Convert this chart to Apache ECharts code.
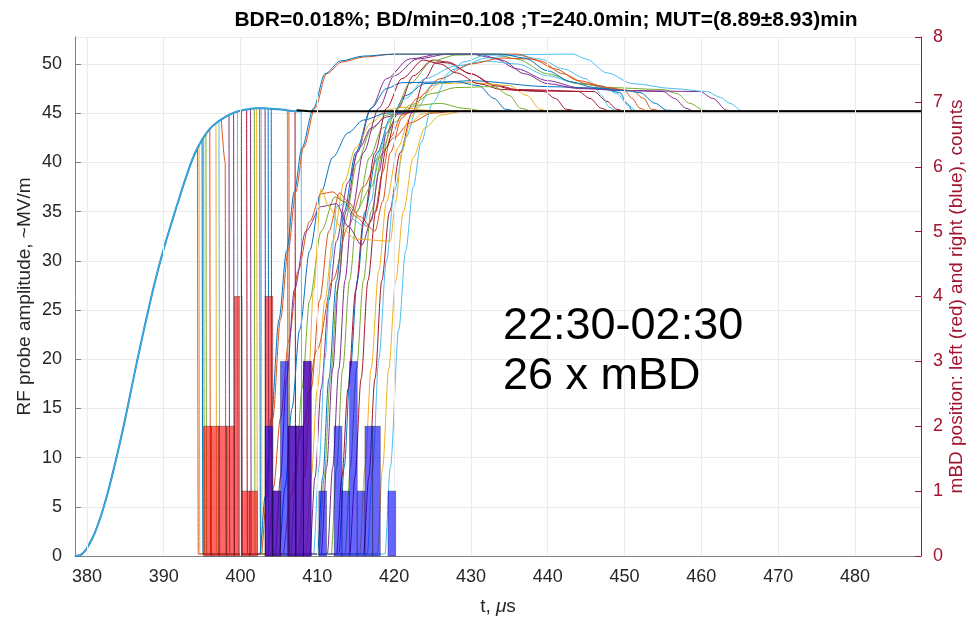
<!DOCTYPE html>
<html><head><meta charset="utf-8">
<script src="https://cdn.jsdelivr.net/npm/echarts@6/dist/echarts.min.js"></script>
<style>html,body{margin:0;padding:0;background:#fff}#c{width:969px;height:622px}</style>
</head><body><div id="c"></div>
<script>
// ---------- data ----------
const titleText = 'BDR=0.018%; BD/min=0.108 ;T=240.0min; MUT=(8.89\u00b18.93)min';
const xTicks = [380,390,400,410,420,430,440,450,460,470,480];
const leftTicks = [0,5,10,15,20,25,30,35,40,45,50];
const rightTicks = [0,1,2,3,4,5,6,7,8];

// common pulse before breakdown (t [us], amplitude)
const envelope = [[378.5,0],[379,0.05],[379.5,0.3],[380,0.8],[381,2.3],[382,4.5],[383,7.3],[384,10.5],[385,14],[386,17.8],[387,21.5],[388,25],[389,28.3],[390,31.2],[391,33.8],[392,36.3],[393,38.7],[394,40.8],[395,42.3],[396,43.4],[397,44.1],[398,44.6],[399,45.0],[400,45.25],[401,45.4],[402,45.5],[403,45.5],[404,45.45],[405,45.4],[406,45.3],[407,45.2],[408,45.2]];
const blackTrace = [[407.3,45.3],[409,45.2],[412,45.2],[488.6,45.2]];

// breakdown traces: from the moment of the drop onward
const bd01 = [[395.0,42.3],[395.1,0.2],[402.5,0.2],[403.2,6],[404,14],[405,24],[406,31],[407,37],[408,41.5],[409.5,45.5],[411,49],[413,50.3],[416,50.8],[420,51],[434,51],[437,50.6],[440,49.3],[443,48.2],[446,47.6],[450,47.3],[452,47.1],[454,46],[455.5,45.3],[458,45.2],[488.6,45.2]];
const bd02 = [[394.4,41.4],[394.5,0.2],[402.7,0.2],[403.4,6],[404.2,14],[405.2,24],[406.2,31],[407.2,37],[408.2,41.5],[409.7,45.5],[411.2,49],[413.2,50.2],[416,50.7],[420,51],[436,51],[439,50.3],[442,49],[445,48],[448,47.5],[451,47.3],[452.5,46.5],[453.5,45.4],[455,45.2],[488.6,45.2]];
const bd03 = [[394.6,41.7],[394.7,0.2],[407.6,0.2],[408.2,8],[408.8,17],[409.5,27],[410.5,37.3],[411.5,35.5],[413,33.5],[415,32.2],[419.5,32],[420.2,36],[421,41],[422,43.8],[423.5,44.9],[426,45.2],[488.6,45.2]];
const bd04 = [[399.1,45.0],[399.2,0.2],[404.5,0.2],[405.2,8],[406,18],[407,27],[408.5,33],[410.5,35.5],[412.5,35.8],[414,33.5],[415.8,31.6],[417,34],[418,39],[419,43],[420.5,44.9],[423,45.2],[488.6,45.2]];
const bd05 = [[395.5,42.85],[395.6,0.2],[406.5,0.2],[407.2,8],[408,17],[409,26],[410.5,33],[412.3,36.5],[413.5,36],[415,35],[417,37.5],[418.5,41.5],[420,44],[422,45.8],[425,47],[428,47.6],[433,47.7],[435,46.8],[436.5,45.5],[438,45.2],[488.6,45.2]];
const bd06 = [[397.2,44.2],[397.3,0.2],[418.8,0.2],[419.5,9],[420.6,23],[421.5,31],[422.5,37.5],[423.5,42],[425,46],[427,48.8],[429,50.2],[432,50.9],[443.3,51],[445,50.5],[447.7,49.1],[451.1,48.0],[456.3,47.5],[460.7,47.2],[462.5,46.6],[463.7,46],[465.4,45.2],[488.6,45.2]];
const bd07 = [[400.1,45.25],[400.2,0.2],[412.5,0.2],[413.2,8],[414,17],[415,27],[416,34],[417.5,41],[419,45.5],[421,48.5],[423.8,50.4],[426,50],[428.1,49.1],[431,48],[434,47.4],[439.5,47.2],[441,46.5],[442.4,45.4],[444,45.2],[488.6,45.2]];
const bd08 = [[402.5,45.5],[402.6,0.2],[410,0.2],[410.7,8],[411.5,18],[412.5,28],[413.5,35],[415,41],[417,45.5],[419,47.5],[421,48.1],[428,48.2],[431,47.8],[433,46.5],[434.5,45.4],[436,45.2],[488.6,45.2]];
const bd09 = [[406.3,45.28],[406.4,0.2],[407.5,0.2],[408.3,8],[409.2,17],[410.3,26],[411.5,33],[412.9,36.9],[414,36],[415.5,34.5],[417.5,33],[418.5,36],[419.5,41],[421,44.5],[423,46.5],[426,48.5],[430,50],[434,50.6],[438,50.5],[441,49.5],[444,48.3],[448,47.6],[450,47.3],[451,46.5],[452,45.5],[453,45.2],[488.6,45.2]];
const bd10 = [[402.1,45.5],[402.2,0.2],[415.5,0.2],[416.2,9],[417,19],[418,29],[419,36],[420.5,41.5],[422,44.5],[424,47],[426,48],[430,48.1],[435,47.8],[437.3,46.8],[439,45.4],[440,45.2],[488.6,45.2]];
const bd11 = [[401.3,45.45],[401.4,0.2],[411.3,0.2],[412,9],[412.8,19],[413.6,28],[414.5,35],[416,41],[418,45.5],[420,48.8],[423,50.5],[427,51],[431,51],[434,50.4],[437,49],[440,48],[444,47.5],[450,47.3],[459.8,47.2],[461.5,46.5],[463.3,45.3],[465,45.2],[488.6,45.2]];
const bd12 = [[401.8,45.5],[401.9,0.2],[413.6,0.2],[414.3,9],[415.1,19],[416,28],[417,35],[418.5,41],[420,45],[422,48],[425,50.3],[428,50.9],[433,51],[436,50.5],[440,49],[444,48],[448,47.6],[455,47.4],[456.8,47],[458.5,46],[460.3,45.3],[462,45.2],[488.6,45.2]];
const bd13 = [[407.9,45.2],[408,0.2],[409.5,0.2],[410.2,9],[411,20],[411.8,30],[412.5,35.5],[413.5,35.8],[415,34],[416,33.5],[417,36],[418,41],[419.5,44.5],[421.5,46.5],[424,48.5],[428,49.8],[432,50.3],[436,50],[440,48.8],[444,48],[447,47.8],[449,47],[450.5,45.8],[451.6,45.2],[488.6,45.2]];
const bd14 = [[400.8,45.4],[400.9,0.2],[414.2,0.2],[414.9,8],[415.7,18],[416.6,28],[417.6,35],[419,41.5],[420.5,45.5],[422.5,48.8],[425,50.4],[427,50.2],[430,49],[433,47.8],[436,47.3],[444,47.2],[445.5,46.5],[447,45.5],[448,45.2],[488.6,45.2]];
const bd15 = [[403.6,45.47],[403.7,0.2],[405,0.2],[405.8,7],[406.7,15],[407.7,23],[409,31],[410.5,37],[412,40.5],[414,43],[416,44.3],[419,45],[423,45.2],[488.6,45.2]];
const bd16 = [[397.5,44.4],[398,40],[398.1,0.2],[405.5,0.2],[406.5,6],[408,13],[410,21],[412,28],[414,33.5],[416,37.5],[418,40.5],[420,42.5],[422,44],[425,45],[428,45.2],[488.6,45.2]];
const bd17 = [[402.7,45.5],[402.8,0.2],[408.5,0.2],[409.2,8],[410,17],[411,26],[412,32],[413.5,38],[415,41.5],[417,44],[419,45.3],[421,45.6],[424,45.3],[427,45.2],[488.6,45.2]];
const bd18 = [[403.2,45.5],[403.3,0.2],[409,0.2],[409.7,8],[410.5,17],[411.5,26],[412.5,32],[414,38],[415.5,41.5],[417,43.5],[419,44.6],[421,45.1],[425,45.2],[488.6,45.2]];
const bd19 = [[406.1,45.3],[406.2,0.2],[411.8,0.2],[412.5,9],[413.3,19],[414.2,28],[415.2,35],[416.8,40.5],[418.5,43.5],[420.5,45],[423,45.8],[426,46],[429,45.5],[432,45.2],[488.6,45.2]];
const bd20 = [[399.6,45.15],[399.7,0.2],[416.5,0.2],[417.2,9],[418,20],[419,30],[420,37],[421.5,42.5],[423,45.5],[425,47.8],[428,49.5],[432,50.6],[436,50.9],[439,50.5],[442,49.5],[445,48.5],[446,47.9],[447,46.8],[448,45.6],[449,45.2],[488.6,45.2]];
const bd21 = [[407.1,45.2],[407.2,0.2],[416,0.2],[416.7,8],[417.5,18],[418.4,28],[419.4,35],[420.8,41],[422.3,45],[424,48.5],[425.5,50.2],[427,50.1],[430,49],[433,47.9],[436,47.4],[446,47.2],[447.7,46.2],[449,45.4],[450,45.2],[488.6,45.2]];
const bd22 = [[404.0,45.45],[404.1,0.2],[412.8,0.2],[413.5,9],[414.3,19],[415.2,28],[416.2,35],[417.8,41],[419.5,44.5],[421.5,46.8],[424,48],[430,48.3],[440,47.7],[447,47.5],[449.4,47.1],[450.3,46],[451,45.3],[452.5,45.2],[488.6,45.2]];
const bd23 = [[396.0,43.4],[396.1,0.2],[403.5,0.2],[404.3,7],[405.2,14],[406.3,22],[407.5,29],[409,34],[410.5,36.8],[412,37],[413.5,36],[415,34.5],[416.5,33.5],[417.5,35],[418.5,39],[419.5,42.5],[421,44.8],[423,45.3],[426,45.2],[488.6,45.2]];
const bd24 = [[396.8,44.0],[396.9,0.2],[417.8,0.2],[418.5,9],[419.3,19],[420.2,28],[421.2,35],[422.5,40.5],[424,43.5],[426,44.8],[429,45.2],[488.6,45.2]];
const bd25 = [[398.5,44.8],[398.6,0.2],[410.5,0.2],[411.2,9],[412,19],[412.8,28],[413.7,35],[415.2,41],[417,45.5],[419,48.5],[422,50.5],[426,51],[430,51],[433,50.6],[436,49.5],[440,48.3],[444,47.6],[450,47.3],[455,47.2],[456.5,46.5],[458,45.5],[459,45.2],[488.6,45.2]];
const bd26 = [[395.2,42.5],[395.3,0.2],[410.2,0.2],[410.9,8],[411.7,18],[412.6,27],[413.6,34],[415.2,40],[417,43.3],[419,44.8],[422,45.2],[488.6,45.2]];
const bdTraces = [bd01,bd02,bd03,bd04,bd05,bd06,bd07,bd08,bd09,bd10,bd11,bd12,bd13,bd14,bd15,bd16,bd17,bd18,bd19,bd20,bd21,bd22,bd23,bd24,bd25,bd26];

// histograms of mBD position (counts), 1 us bins
const binWidth = 1;
const redBinLeft = [395.2,396.2,397.2,398.2,399.2,400.2,401.2,402.2,403.2,404.2,405.2,406.2,407.2,408.2];
const redCounts  = [2,2,2,2,4,1,1,0,4,1,0,2,2,3];
const blueBinLeft = [403.2,404.2,405.2,406.2,407.2,408.2,409.2,410.2,411.2,412.2,413.2,414.2,415.2,416.2,417.2,418.2,419.2];
const blueCounts  = [2,1,3,2,2,3,0,1,0,2,1,3,1,2,2,0,1];

const noteLines = ['22:30-02:30', '26 x mBD'];

// ---------- chart ----------
const palette = ['#0072BD','#D95319','#EDB120','#7E2F8E','#77AC30','#4DBEEE','#A2142F'];
const FONT = '"Liberation Sans", Arial, sans-serif';
const axisGray = '#262626';
const rightRed = '#A2142F';
const gridColor = '#ebebeb';

const series = [];
// vertical grid lines at the x ticks (drawn through the x scale)
series.push({
  type: 'line', data: [], xAxisIndex: 0, yAxisIndex: 0, z: 0, silent: true,
  markLine: { silent: true, symbol: 'none', animation: false, label: { show: false },
    lineStyle: { color: gridColor, width: 1, type: 'solid' },
    data: xTicks.map(v => ({ xAxis: v })) }
});
// draw in reverse so that the first traces end on top
for (let i = bdTraces.length - 1; i >= 0; i--) {
  series.push({
    type: 'line', data: bdTraces[i], showSymbol: false, smooth: 0.3, smoothMonotone: 'x',
    lineStyle: { width: 1, color: palette[i % 7] }, itemStyle: { color: palette[i % 7] },
    xAxisIndex: 0, yAxisIndex: 0, silent: true, z: 2, clip: true
  });
}
// the shared pre-breakdown part of all traces
series.push({
  type: 'line', data: envelope, showSymbol: false, smooth: 0.5,
  lineStyle: { width: 2, color: '#1f86c2' }, xAxisIndex: 0, yAxisIndex: 0, silent: true, z: 2.5
});
series.push({
  type: 'line', data: envelope, showSymbol: false, smooth: 0.5,
  lineStyle: { width: 1, color: '#4DBEEE', opacity: 0.8 }, xAxisIndex: 0, yAxisIndex: 0, silent: true, z: 2.6
});
series.push({
  type: 'line', data: blackTrace, showSymbol: false, smooth: false,
  lineStyle: { width: 2, color: '#000' }, xAxisIndex: 0, yAxisIndex: 0, silent: true, z: 3
});

function histItems(lefts, counts) {
  const out = [];
  lefts.forEach((l, k) => { if (counts[k] > 0) out.push([l, l + binWidth, counts[k]]); });
  return out;
}
function barRenderer(fill) {
  return function (params, api) {
    const p0 = api.coord([api.value(0), 0]);
    const p1 = api.coord([api.value(1), api.value(2)]);
    return { type: 'rect',
      shape: { x: p0[0], y: p1[1], width: p1[0] - p0[0], height: p0[1] - p1[1] },
      style: { fill: fill, stroke: 'rgba(0,0,0,0.45)', lineWidth: 0.7 } };
  };
}
series.push({ type: 'custom', xAxisIndex: 0, yAxisIndex: 1, z: 4, silent: true,
  renderItem: barRenderer('rgba(255,0,0,0.6)'), data: histItems(redBinLeft, redCounts), encode: { x: [0, 1], y: 2 } });
series.push({ type: 'custom', xAxisIndex: 0, yAxisIndex: 1, z: 5, silent: true,
  renderItem: barRenderer('rgba(0,0,255,0.6)'), data: histItems(blueBinLeft, blueCounts), encode: { x: [0, 1], y: 2 } });

const chart = echarts.init(document.getElementById('c'), null, { renderer: 'canvas' });
chart.setOption({
  animation: false,
  backgroundColor: '#fff',
  title: { text: titleText, left: 541, top: 5, textAlign: 'center',
    textStyle: { fontFamily: FONT, fontWeight: 'bold', fontSize: 21, color: '#000' } },
  grid: { left: 75, right: 48, top: 37, bottom: 66, outerBoundsMode: 'none', containLabel: false },
  xAxis: {
    type: 'value', min: 378.45, max: 488.6,
    name: 't, {i|\u03bc}s', nameLocation: 'middle', nameGap: 41, nameMoveOverlap: false,
    nameTextStyle: { fontFamily: FONT, fontSize: 19, color: axisGray, rich: { i: { fontFamily: FONT, fontSize: 19, fontStyle: 'italic', color: axisGray } } },
    axisLine: { show: true, onZero: false, lineStyle: { color: '#808080', width: 1 } },
    axisTick: { show: true, inside: true, length: 6, lineStyle: { color: '#808080' }, customValues: xTicks },
    axisLabel: { margin: 12, fontFamily: FONT, fontSize: 18, color: axisGray, customValues: xTicks },
    splitLine: { show: false }
  },
  yAxis: [
    { type: 'value', min: 0, max: 52.74, interval: 5, position: 'left',
      name: 'RF probe amplitude, ~MV/m', nameLocation: 'middle', nameGap: 41, nameRotate: 90, nameMoveOverlap: false,
      nameTextStyle: { fontFamily: FONT, fontSize: 19, color: axisGray },
      axisLine: { show: true, lineStyle: { color: '#808080' } },
      axisTick: { show: true, inside: true, length: 6, lineStyle: { color: '#808080' } },
      axisLabel: { showMaxLabel: false, margin: 13, fontFamily: FONT, fontSize: 18, color: axisGray,
        formatter: v => leftTicks.indexOf(v) >= 0 ? String(v) : '' },
      splitLine: { show: true, lineStyle: { color: gridColor, width: 1 } } },
    { type: 'value', min: 0, max: 8, interval: 1, position: 'right',
      name: 'mBD position: left (red) and right (blue), counts', nameLocation: 'middle', nameGap: 26, nameRotate: 90, nameMoveOverlap: false,
      nameTextStyle: { fontFamily: FONT, fontSize: 19, color: rightRed },
      axisLine: { show: true, lineStyle: { color: rightRed } },
      axisTick: { show: true, inside: true, length: 6, lineStyle: { color: rightRed } },
      axisLabel: { margin: 12, fontFamily: FONT, fontSize: 18, color: rightRed,
        formatter: v => rightTicks.indexOf(v) >= 0 ? String(v) : '' },
      splitLine: { show: false } }
  ],
  graphic: [
    { type: 'text', left: 503, top: 302, z: 10,
      style: { text: noteLines.join('\n'), font: '45px ' + FONT, fill: '#000', lineHeight: 50 } }
  ],
  series: series
});
</script></body></html>
